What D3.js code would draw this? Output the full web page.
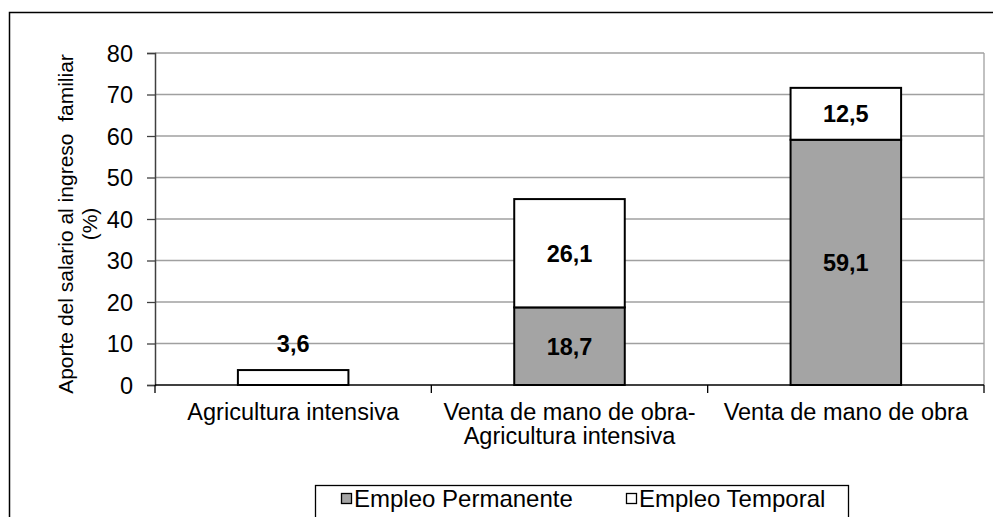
<!DOCTYPE html>
<html>
<head>
<meta charset="utf-8">
<script src="https://cdn.jsdelivr.net/npm/d3@7"></script>
<style>
  body { margin: 0; background: #fff; }
  text { font-family: "Liberation Sans", Arial, sans-serif; fill: #000; }
</style>
</head>
<body>
<div id="chart"></div>
<script>
// chart values
var categories = [
    ["Agricultura intensiva"],
    ["Venta de mano de obra-", "Agricultura intensiva"],
    ["Venta de mano de obra"]
];
var permanente = [0, 18.7, 59.1];
var temporal = [3.6, 26.1, 12.5];
var seriesNames = ["Empleo Permanente", "Empleo Temporal"];
var yTicks = [0, 10, 20, 30, 40, 50, 60, 70, 80];

var svgWidth = 993;
var svgHeight = 517;

var fontSize = 23.5;
var titleSize = 21;

var margin = { top: 53, right: 9, bottom: 132, left: 155 };
var width = svgWidth - margin.left - margin.right;
var height = svgHeight - margin.top - margin.bottom;

var svg = d3.select("#chart")
    .append("svg")
    .attr("width", svgWidth)
    .attr("height", svgHeight);

// outer frame (runs off the right and bottom)
svg.append("rect")
    .attr("x", 9.5)
    .attr("y", 12.5)
    .attr("width", 1100)
    .attr("height", 700)
    .attr("fill", "none")
    .attr("stroke", "#000")
    .attr("stroke-width", 1.5);

var chartGroup = svg.append("g")
    .attr("transform", `translate(${margin.left}, ${margin.top})`);

var xScale = d3.scaleBand()
    .domain(d3.range(categories.length))
    .range([0, width])
    .padding(0);

var yScale = d3.scaleLinear()
    .domain([0, 80])
    .range([height, 0]);

var barWidth = xScale.bandwidth() * 0.4;

// gridlines
chartGroup.append("g")
    .selectAll("line")
    .data(yTicks.slice(1))
    .enter().append("line")
    .attr("x1", 0)
    .attr("x2", width)
    .attr("y1", d => yScale(d))
    .attr("y2", d => yScale(d))
    .attr("stroke", "#a0a0a0")
    .attr("stroke-width", 1.3);

// right border of plot area
chartGroup.append("line")
    .attr("x1", width).attr("x2", width)
    .attr("y1", 0).attr("y2", height)
    .attr("stroke", "#a0a0a0")
    .attr("stroke-width", 1.3);

// y axis
var leftAxis = d3.axisLeft(yScale)
    .tickValues(yTicks)
    .tickSize(8)
    .tickPadding(14)
    .tickFormat(d3.format("d"));

var yAxis = chartGroup.append("g").call(leftAxis);
yAxis.select(".domain").attr("stroke", "#404040").attr("stroke-width", 1.5);
yAxis.selectAll(".tick line").attr("stroke", "#404040").attr("stroke-width", 1.3);
yAxis.selectAll(".tick text")
    .attr("dy", "0.36em")
    .style("font-size", fontSize + "px")
    .style("font-family", "Liberation Sans, Arial, sans-serif")
    .attr("fill", "#000");

// x axis: ticks at category boundaries
var xAxis = chartGroup.append("g")
    .attr("transform", `translate(0, ${height})`);

xAxis.append("line")
    .attr("x1", 0).attr("x2", width)
    .attr("y1", 0).attr("y2", 0)
    .attr("stroke", "#000")
    .attr("stroke-width", 1.5);

xAxis.selectAll(".xtick")
    .data(d3.range(categories.length + 1))
    .enter().append("line")
    .attr("class", "xtick")
    .attr("x1", d => d * xScale.step())
    .attr("x2", d => d * xScale.step())
    .attr("y1", 0)
    .attr("y2", 8)
    .attr("stroke", "#000")
    .attr("stroke-width", 1.3);

// category labels
categories.forEach(function(lines, i) {
    var cx = xScale(i) + xScale.bandwidth() / 2;
    lines.forEach(function(line, j) {
        xAxis.append("text")
            .attr("x", cx)
            .attr("y", 35 + j * 24)
            .attr("text-anchor", "middle")
            .style("font-size", fontSize + "px")
            .text(line);
    });
});

// stacked bars
var stacked = categories.map((c, i) => ({
    i: i,
    perm: permanente[i],
    temp: temporal[i]
}));

var barGroups = chartGroup.selectAll(".bar")
    .data(stacked)
    .enter().append("g")
    .attr("class", "bar");

barGroups.filter(d => d.perm > 0)
    .append("rect")
    .attr("x", d => xScale(d.i) + (xScale.bandwidth() - barWidth) / 2)
    .attr("y", d => yScale(d.perm))
    .attr("width", barWidth)
    .attr("height", d => yScale(0) - yScale(d.perm))
    .attr("fill", "#a4a4a4")
    .attr("stroke", "#000")
    .attr("stroke-width", 2);

barGroups.append("rect")
    .attr("x", d => xScale(d.i) + (xScale.bandwidth() - barWidth) / 2)
    .attr("y", d => yScale(d.perm + d.temp))
    .attr("width", barWidth)
    .attr("height", d => yScale(d.perm) - yScale(d.perm + d.temp))
    .attr("fill", "#fff")
    .attr("stroke", "#000")
    .attr("stroke-width", 2);

// value labels
function valueLabel(sel, val, base) {
    sel.append("text")
        .attr("x", d => xScale(d.i) + xScale.bandwidth() / 2)
        .attr("y", function(d) {
            var v = val(d), b = base(d);
            var segH = yScale(b) - yScale(b + v);
            return segH > 30 ? (yScale(b) + yScale(b + v)) / 2 : yScale(b + v) - 27;
        })
        .attr("dy", "0.36em")
        .attr("text-anchor", "middle")
        .style("font-size", fontSize + "px")
        .style("font-weight", "bold")
        .text(d => d3.format(".1f")(val(d)).replace(".", ","));
}

valueLabel(barGroups.filter(d => d.perm > 0), d => d.perm, d => 0);
valueLabel(barGroups, d => d.temp, d => d.perm);

// y axis title
var yTitle = svg.append("text")
    .attr("transform", `translate(73, 224) rotate(-90)`)
    .attr("text-anchor", "middle")
    .style("font-size", titleSize + "px");
yTitle.append("tspan").attr("x", 0).attr("y", 0).text("Aporte del salario al ingreso\u00a0 familiar");
yTitle.append("tspan").attr("x", 0).attr("y", 24).text("(%)");

// legend
var legend = svg.append("g");
legend.append("rect")
    .attr("x", 315.5)
    .attr("y", 485.5)
    .attr("width", 533)
    .attr("height", 60)
    .attr("fill", "#fff")
    .attr("stroke", "#000")
    .attr("stroke-width", 1.3);

var legendX = [341, 626];
var legendFill = ["#a4a4a4", "#fff"];
seriesNames.forEach(function(name, i) {
    legend.append("rect")
        .attr("x", legendX[i] + 0.5)
        .attr("y", 493.5)
        .attr("width", 10)
        .attr("height", 10)
        .attr("fill", legendFill[i])
        .attr("stroke", "#000")
        .attr("stroke-width", 1.3);
    legend.append("text")
        .attr("x", legendX[i] + 13)
        .attr("y", 507)
        .style("font-size", "24px")
        .text(name);
});
</script>
</body>
</html>
